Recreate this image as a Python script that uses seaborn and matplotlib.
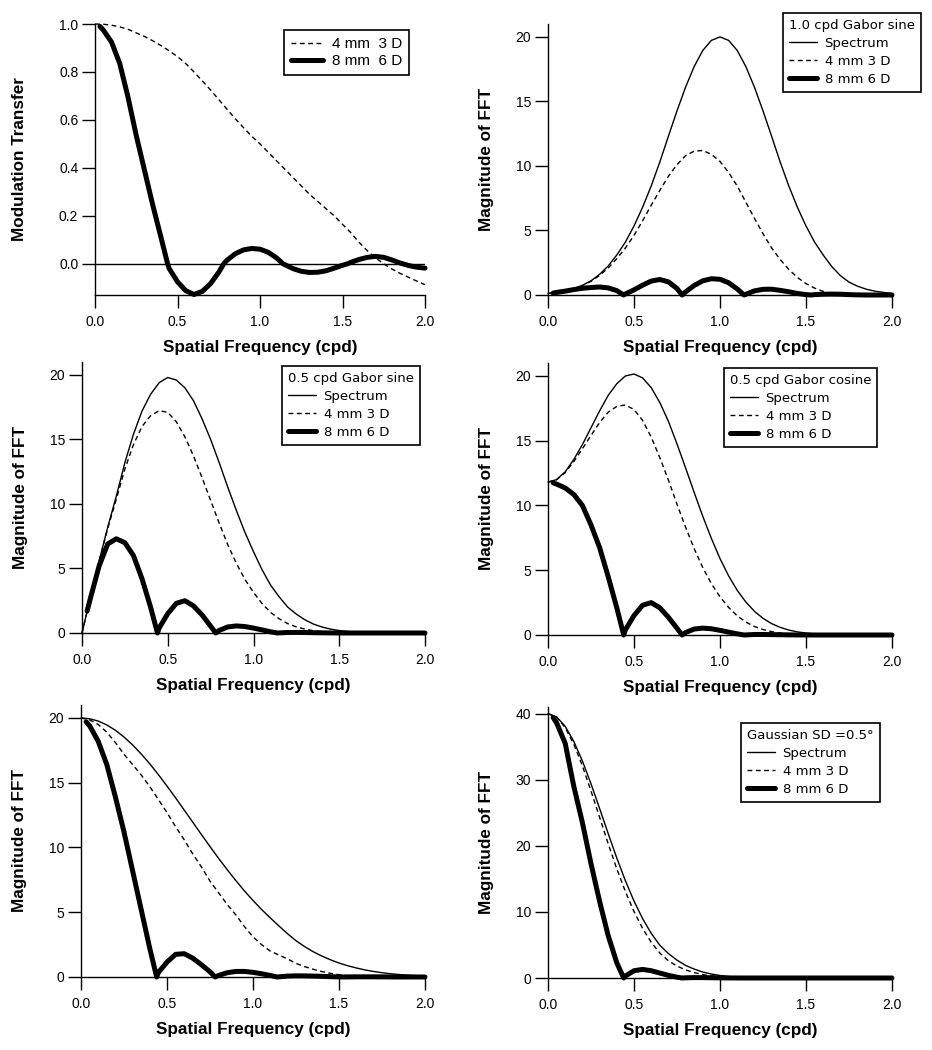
import numpy as np
import pandas as pd
import seaborn as sns
import matplotlib
matplotlib.use('Agg')
import matplotlib.pyplot as plt

sns.set_style('ticks')
plt.rcParams['font.family'] = ['Liberation Sans', 'DejaVu Sans']
plt.rcParams['text.color'] = 'black'
plt.rcParams['axes.labelcolor'] = 'black'
plt.rcParams['xtick.color'] = 'black'
plt.rcParams['ytick.color'] = 'black'

# sampling grids (cpd)
freq = [0.0, 0.05, 0.1, 0.15, 0.2, 0.25, 0.3, 0.35, 0.4, 0.45, 0.5, 0.55, 0.6, 0.65,
        0.7, 0.75, 0.8, 0.85, 0.9, 0.95, 1.0, 1.05, 1.1, 1.15, 1.2, 1.25, 1.3, 1.35,
        1.4, 1.45, 1.5, 1.55, 1.6, 1.65, 1.7, 1.75, 1.8, 1.85, 1.9, 1.95, 2.0]
freq_thick = [0.03, 0.05, 0.1, 0.15, 0.2, 0.25, 0.3, 0.35, 0.4, 0.44, 0.45, 0.5, 0.55,
              0.6, 0.65, 0.7, 0.75, 0.78, 0.8, 0.85, 0.9, 0.95, 1.0, 1.05, 1.1, 1.14,
              1.2, 1.25, 1.3, 1.35, 1.4, 1.45, 1.5, 1.53, 1.55, 1.6, 1.65, 1.7, 1.75,
              1.8, 1.85, 1.9, 1.95, 2.0]

# panel 1: modulation transfer
mtf_4mm = [1.0, 0.999, 0.995, 0.988, 0.978, 0.963, 0.948, 0.93, 0.91, 0.888, 0.864, 0.835,
           0.8, 0.763, 0.725, 0.685, 0.645, 0.605, 0.568, 0.532, 0.5, 0.465, 0.43, 0.395,
           0.36, 0.325, 0.29, 0.26, 0.23, 0.2, 0.165, 0.13, 0.09, 0.055, 0.025, 0.0,
           -0.022, -0.04, -0.056, -0.072, -0.087]
mtf_8mm = [0.99, 0.975, 0.925, 0.835, 0.695, 0.535, 0.39, 0.245, 0.11, 0.0, -0.02, -0.075,
           -0.112, -0.128, -0.115, -0.083, -0.035, 0.0, 0.015, 0.042, 0.058, 0.064, 0.061,
           0.048, 0.025, 0.0, -0.02, -0.031, -0.036, -0.035, -0.029, -0.018, -0.006, 0.0,
           0.006, 0.018, 0.027, 0.031, 0.027, 0.016, 0.003, -0.007, -0.014, -0.018]

# panel 2: 1.0 cpd Gabor sine
spec_g10s = [0.12, 0.2, 0.32, 0.5, 0.75, 1.1, 1.6, 2.25, 3.1, 4.1, 5.35, 6.8, 8.45, 10.3,
             12.3, 14.27, 16.11, 17.71, 18.95, 19.73, 20.0, 19.73, 18.95, 17.71, 16.11,
             14.27, 12.3, 10.3, 8.45, 6.8, 5.35, 4.1, 3.1, 2.2, 1.5, 1.0, 0.68, 0.45, 0.3,
             0.2, 0.12]
d4_g10s = [0.12, 0.2, 0.32, 0.49, 0.73, 1.06, 1.52, 2.09, 2.82, 3.64, 4.62, 5.75, 6.95, 8.1,
           9.2, 10.1, 10.8, 11.15, 11.2, 10.9, 10.35, 9.5, 8.45, 7.2, 5.95, 4.75, 3.65,
           2.75, 1.98, 1.36, 0.88, 0.53, 0.28, 0.12, 0.04, 0.0, 0.015, 0.018, 0.017, 0.014,
           0.01]
d8_g10s = [0.15, 0.2, 0.3, 0.42, 0.52, 0.58, 0.62, 0.55, 0.34, 0.0, 0.08, 0.4, 0.76, 1.08,
           1.2, 1.02, 0.5, 0.0, 0.24, 0.74, 1.1, 1.26, 1.22, 0.95, 0.47, 0.0, 0.32, 0.44,
           0.45, 0.36, 0.25, 0.12, 0.03, 0.0, 0.03, 0.06, 0.07, 0.06, 0.03, 0.01, 0.0, 0.0,
           0.0, 0.0]

# panel 3: 0.5 cpd Gabor sine
spec_g05s = [0.0, 2.8, 5.6, 8.2, 10.6, 13.2, 15.4, 17.2, 18.5, 19.4, 19.8, 19.6, 19.0, 18.0,
             16.6, 15.0, 13.2, 11.3, 9.5, 7.8, 6.3, 4.9, 3.7, 2.8, 2.0, 1.46, 1.02, 0.69,
             0.46, 0.3, 0.19, 0.12, 0.07, 0.04, 0.02, 0.01, 0.0, 0.0, 0.0, 0.0, 0.0]
d4_g05s = [0.0, 2.8, 5.57, 8.1, 10.37, 12.71, 14.6, 16.0, 16.84, 17.23, 17.1, 16.37, 15.2,
           13.73, 12.04, 10.28, 8.51, 6.84, 5.4, 4.15, 3.15, 2.28, 1.59, 1.1, 0.72, 0.47,
           0.3, 0.18, 0.11, 0.06, 0.03, 0.015, 0.008, 0.0, 0.0, 0.0, 0.0, 0.0, 0.0, 0.0, 0.0]
d8_g05s = [1.7, 2.74, 5.2, 6.9, 7.3, 7.0, 6.0, 4.2, 2.0, 0.0, 0.39, 1.5, 2.3, 2.5, 2.1, 1.4,
           0.53, 0.0, 0.2, 0.47, 0.55, 0.5, 0.38, 0.24, 0.09, 0.0, 0.04, 0.045, 0.037, 0.024,
           0.013, 0.005, 0.002, 0.0, 0.0, 0.0, 0.0, 0.0, 0.0, 0.0, 0.0, 0.0, 0.0, 0.0]

# panel 4: 0.5 cpd Gabor cosine
spec_g05c = [11.8, 12.0, 12.6, 13.55, 14.7, 16.0, 17.3, 18.5, 19.4, 20.0, 20.15, 19.85,
             19.1, 17.95, 16.5, 14.75, 12.9, 11.0, 9.16, 7.45, 5.9, 4.57, 3.45, 2.55, 1.83,
             1.29, 0.88, 0.59, 0.38, 0.24, 0.15, 0.09, 0.05, 0.03, 0.02, 0.01, 0.0, 0.0,
             0.0, 0.0, 0.0]
d4_g05c = [11.8, 11.99, 12.54, 13.39, 14.38, 15.41, 16.4, 17.2, 17.65, 17.76, 17.41, 16.57,
           15.28, 13.7, 11.96, 10.1, 8.32, 6.66, 5.2, 3.96, 2.95, 2.13, 1.48, 1.0, 0.66,
           0.42, 0.26, 0.15, 0.09, 0.05, 0.025, 0.013, 0.005, 0.0, 0.0, 0.0, 0.0, 0.0, 0.0,
           0.0, 0.0]
d8_g05c = [11.75, 11.65, 11.35, 10.85, 10.0, 8.5, 6.75, 4.5, 2.1, 0.0, 0.4, 1.5, 2.3, 2.5,
           2.1, 1.37, 0.52, 0.0, 0.19, 0.46, 0.53, 0.48, 0.36, 0.22, 0.09, 0.0, 0.04, 0.04,
           0.03, 0.02, 0.01, 0.004, 0.001, 0.0, 0.0, 0.0, 0.0, 0.0, 0.0, 0.0, 0.0, 0.0, 0.0,
           0.0]

# panel 5: broadband target
spec_bb = [20.0, 19.94, 19.76, 19.46, 19.05, 18.53, 17.92, 17.22, 16.46, 15.62, 14.74,
           13.83, 12.89, 11.95, 11.0, 10.07, 9.16, 8.29, 7.45, 6.65, 5.91, 5.21, 4.57, 3.95,
           3.35, 2.8, 2.35, 1.95, 1.62, 1.33, 1.08, 0.87, 0.7, 0.55, 0.43, 0.33, 0.25, 0.19,
           0.14, 0.1, 0.08]
d4_bb = [20.0, 19.85, 19.5, 18.9, 18.1, 17.2, 16.4, 15.6, 14.7, 13.7, 12.7, 11.6, 10.6,
         9.5, 8.5, 7.4, 6.5, 5.6, 4.8, 3.9, 3.1, 2.5, 2.0, 1.7, 1.4, 1.05, 0.8, 0.6, 0.42,
         0.28, 0.18, 0.11, 0.06, 0.03, 0.01, 0.0, 0.0, 0.01, 0.01, 0.01, 0.01]
d8_bb = [19.7, 19.4, 18.2, 16.4, 13.9, 11.2, 8.2, 5.2, 2.2, 0.0, 0.35, 1.15, 1.75, 1.8,
         1.45, 0.95, 0.4, 0.0, 0.12, 0.33, 0.43, 0.43, 0.36, 0.25, 0.12, 0.0, 0.07, 0.09,
         0.085, 0.07, 0.05, 0.025, 0.008, 0.0, 0.005, 0.013, 0.015, 0.013, 0.01, 0.004, 0.0,
         0.001, 0.002, 0.002]

# panel 6: Gaussian SD = 0.5 deg
spec_gauss = [40.0, 39.51, 38.07, 35.79, 32.83, 29.38, 25.65, 21.84, 18.15, 14.72, 11.64,
              8.98, 6.76, 4.96, 3.7, 2.7, 1.9, 1.35, 0.9, 0.6, 0.38, 0.22, 0.13, 0.07, 0.04,
              0.02, 0.01, 0.0, 0.0, 0.0, 0.0, 0.0, 0.0, 0.0, 0.0, 0.0, 0.0, 0.0, 0.0, 0.0,
              0.0]
d4_gauss = [40.0, 39.47, 37.88, 35.36, 32.11, 28.29, 24.32, 20.31, 16.52, 13.07, 10.06, 7.5,
            5.41, 3.78, 2.6, 1.8, 1.23, 0.82, 0.51, 0.32, 0.19, 0.1, 0.06, 0.03, 0.01, 0.0,
            0.0, 0.0, 0.0, 0.0, 0.0, 0.0, 0.0, 0.0, 0.0, 0.0, 0.0, 0.0, 0.0, 0.0, 0.0]
d8_gauss = [39.4, 38.6, 35.5, 29.0, 23.5, 17.3, 11.6, 6.4, 2.3, 0.0, 0.3, 1.1, 1.3, 1.1,
            0.75, 0.4, 0.12, 0.0, 0.03, 0.06, 0.06, 0.04, 0.02, 0.01, 0.005, 0.0, 0.0, 0.0,
            0.0, 0.0, 0.0, 0.0, 0.0, 0.0, 0.0, 0.0, 0.0, 0.0, 0.0, 0.0, 0.0, 0.0, 0.0, 0.0]

xticks = [0.0, 0.5, 1.0, 1.5, 2.0]
xticklabels = ['0.0', '0.5', '1.0', '1.5', '2.0']

W, H = 932.0, 1050.0
fig = plt.figure(figsize=(W / 100, H / 100), dpi=100)

THIN = 1.0
THICK = 3.6
DASH = (0, (3.5, 2.5))


def make_ax(l, r, t, b):
    return fig.add_axes([l / W, 1 - b / H, (r - l) / W, (b - t) / H])


def style_ax(ax, ylim, yticks, yticklabels, ylabel, box, ylab_off):
    l, r, t, b = box
    ax.set_xlim(0, 2)
    ax.set_ylim(*ylim)
    ax.set_xticks(xticks)
    ax.set_xticklabels(xticklabels)
    ax.set_yticks(yticks)
    ax.set_yticklabels(yticklabels)
    sns.despine(ax=ax)
    for s in ['left', 'bottom']:
        ax.spines[s].set_linewidth(1.0)
        ax.spines[s].set_color('black')
    ax.tick_params(direction='out', length=9.5, width=1.0, labelsize=10, colors='black')
    ax.tick_params(axis='x', pad=5)
    ax.tick_params(axis='y', pad=2.5)
    ax.set_xlabel('Spatial Frequency (cpd)', fontsize=12.3, fontweight='bold')
    ax.set_ylabel(ylabel, fontsize=12.3, fontweight='bold')
    ax.xaxis.set_label_coords(0.5, -45 / (b - t))
    ax.yaxis.set_label_coords(-ylab_off / (r - l), 0.5)


def add_legend(ax, x, y, title=None, fam='DejaVu Sans', size=9.5, spacing=0.37):
    h, lab = ax.get_legend_handles_labels()
    leg = ax.legend(h, lab, title=title, loc='upper left',
                    bbox_to_anchor=(x / W, 1 - y / H), bbox_transform=fig.transFigure,
                    borderaxespad=0, frameon=True, fancybox=False, framealpha=1,
                    edgecolor='black', prop={'family': fam, 'size': size},
                    title_fontproperties={'family': fam, 'size': size},
                    handlelength=2.1, handletextpad=0.6, labelspacing=spacing,
                    borderpad=0.45, alignment='left')
    leg.get_frame().set_linewidth(1.2)
    return leg


def spectrum_panel(box, spec, d4, d8, ylim, yticks, title, legend_xy):
    ax = make_ax(*box)
    sns.lineplot(x=freq, y=spec, ax=ax, color='black', lw=THIN, label='Spectrum',
                 clip_on=False)
    sns.lineplot(x=freq, y=d4, ax=ax, color='black', lw=THIN, linestyle=DASH,
                 label='4 mm 3 D', clip_on=False)
    sns.lineplot(x=freq_thick, y=d8, ax=ax, color='black', lw=THICK, label='8 mm 6 D',
                 clip_on=False)
    style_ax(ax, ylim, yticks, [str(v) for v in yticks], 'Magnitude of FFT', box, 54)
    if title is not None:
        add_legend(ax, legend_xy[0], legend_xy[1], title=title)
    elif ax.get_legend() is not None:
        ax.get_legend().remove()
    return ax


# panel 1
box1 = (95, 425, 24, 295)
ax1 = make_ax(*box1)
ax1.axhline(0, color='black', lw=THIN)
sns.lineplot(x=freq, y=mtf_4mm, ax=ax1, color='black', lw=THIN, linestyle=DASH,
             label='4 mm  3 D', clip_on=False)
sns.lineplot(x=freq_thick, y=mtf_8mm, ax=ax1, color='black', lw=THICK,
             label='8 mm  6 D', clip_on=False)
style_ax(ax1, (-0.13, 1.0), [0.0, 0.2, 0.4, 0.6, 0.8, 1.0],
         ['0.0', '0.2', '0.4', '0.6', '0.8', '1.0'], 'Modulation Transfer', box1, 68)
add_legend(ax1, 284, 30, fam='Liberation Sans', size=11, spacing=0.2)

spectrum_panel((548, 892, 24, 295), spec_g10s, d4_g10s, d8_g10s, (0, 21),
               [0, 5, 10, 15, 20], '1.0 cpd Gabor sine', (783, 13))
spectrum_panel((82, 425, 362, 633), spec_g05s, d4_g05s, d8_g05s, (0, 21),
               [0, 5, 10, 15, 20], '0.5 cpd Gabor sine', (282, 366))
spectrum_panel((548, 892, 363, 635), spec_g05c, d4_g05c, d8_g05c, (0, 21),
               [0, 5, 10, 15, 20], '0.5 cpd Gabor cosine', (724, 368))
spectrum_panel((81, 425, 705, 977), spec_bb, d4_bb, d8_bb, (0, 21),
               [0, 5, 10, 15, 20], None, None)
spectrum_panel((548, 892, 707, 978), spec_gauss, d4_gauss, d8_gauss, (0, 41),
               [0, 10, 20, 30, 40], 'Gaussian SD =0.5°', (741, 723))

fig.savefig('out.png', dpi=100, facecolor='white')
